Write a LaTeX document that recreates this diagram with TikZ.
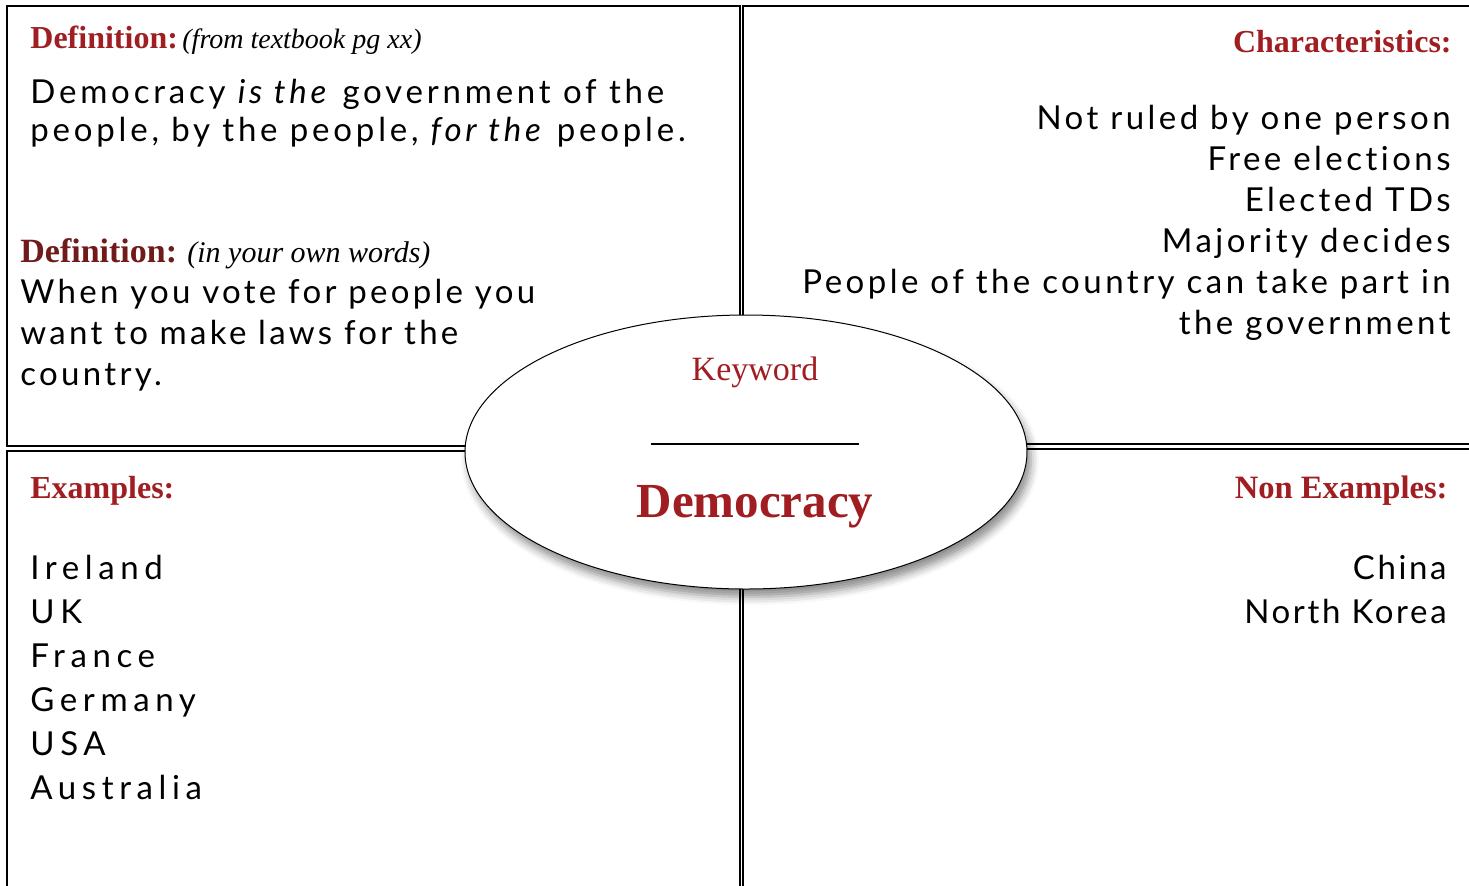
\documentclass[tikz,border=0pt]{standalone}
\usepackage{fontspec}
\setmainfont{Liberation Serif}
\newfontfamily\bodyfont{Lato}[Ligatures=NoCommon]
\usetikzlibrary{shapes.geometric,shadows.blur}
\definecolor{headred}{RGB}{160,30,34}
\definecolor{darkred}{RGB}{112,26,26}

\begin{document}
\begin{tikzpicture}[
    x=0.5pt, y=-0.5pt,
    box/.style={draw, line width=0.8pt},
    heading/.style={inner sep=0, text=headred, font=\fontsize{16}{19}\selectfont\bfseries},
    note/.style={inner sep=0, font=\fontsize{14}{17}\selectfont\itshape},
    body/.style={inner sep=0, font=\bodyfont\fontsize{16.5}{20}\selectfont}
]

\def\linegap{41}
\def\listgap{44}

\useasboundingbox (0,0) rectangle (1469,885);

% the four boxes
\draw[box] (7,6) rectangle (740,446);
\draw[box] (743,6) rectangle (1480,444);
\draw[box] (7,451) rectangle (740,895);
\draw[box] (743,449) rectangle (1480,895);

% definition from the textbook
\node[heading, anchor=base west] (defA) at (30,48) {Definition:};
\node[note, anchor=base west] (defAnote) at (182,48) {(from textbook pg xx)};
\foreach \l [count=\n from 0] in {{Democracy \textit{is the} government of the},
    {people, by the people, \textit{for the} people.}} {
  \node[body, anchor=base west] (defAline\n) at (30,103+\n*38) {\addfontfeatures{LetterSpace=11.5}\l};
}

% definition in own words
\node[heading, text=darkred, font=\fontsize{17}{20}\selectfont\bfseries, anchor=base west] (defB) at (20,262) {Definition:};
\node[note, font=\fontsize{15}{18}\selectfont\itshape, anchor=base west] (defBnote) at (187,262) {(in your own words)};
\foreach \l [count=\n from 0] in {When you vote for people you, want to make laws for the, country.} {
  \node[body, anchor=base west] (defBline\n) at (20,303+\n*\linegap) {\addfontfeatures{LetterSpace=10}\l};
}

% characteristics
\node[heading, anchor=base east] (chars) at (1452,52) {Characteristics:};
\foreach \l [count=\n from 0] in {Not ruled by one person, Free elections, Elected TDs,
    Majority decides, People of the country can take part in, the government} {
  \node[body, anchor=base east] (char\n) at (1451,129+\n*\linegap) {\addfontfeatures{LetterSpace=10.5}\l};
}

% examples
\node[heading, anchor=base west] (exs) at (30,498) {Examples:};
\foreach \l [count=\n from 0] in {Ireland, UK, France, Germany, USA, Australia} {
  \node[body, anchor=base west] (ex\n) at (30,579+\n*\listgap) {\addfontfeatures{LetterSpace=17}\l};
}

% non examples
\node[heading, font=\fontsize{16.3}{19}\selectfont\bfseries, anchor=base east] (nonexs) at (1448,498) {Non Examples:};
\foreach \l [count=\n from 0] in {China, North Korea} {
  \node[body, anchor=base east] (nonex\n) at (1447,579+\n*\listgap) {\addfontfeatures{LetterSpace=8}\l};
}

% keyword in the middle
\node[ellipse, draw, fill=white, line width=0.5pt, minimum width=281pt, minimum height=137pt,
    blur shadow={shadow xshift=2pt, shadow yshift=-4pt, shadow blur radius=4pt, shadow opacity=45}]
    (kw) at (746,452) {};
\node[inner sep=0, text=headred, font=\fontsize{17}{20}\selectfont, anchor=base] (kwlabel) at (755,380) {Keyword};
\draw[line width=0.6pt] (651,444) -- (859,444);
\node[inner sep=0, text=headred, font=\fontsize{24.5}{28}\selectfont\bfseries, anchor=base] (kwword) at (755,517) {Democracy};

\end{tikzpicture}
\end{document}
